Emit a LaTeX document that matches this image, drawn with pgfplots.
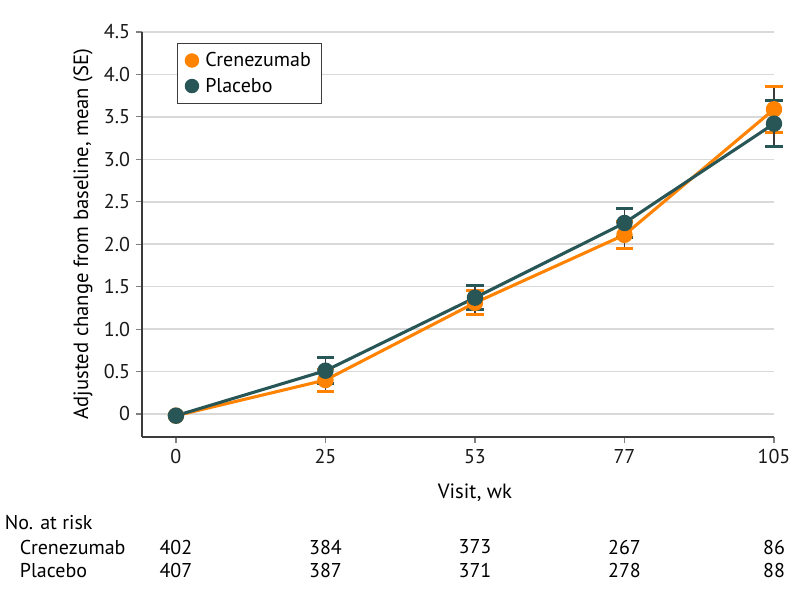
\documentclass[border=0pt]{standalone}
\usepackage{pgfplots}
\pgfplotsset{compat=1.18}
\usepackage{fontspec}
\setmainfont{PT Sans}
\definecolor{orangeC}{RGB}{255,130,0}
\definecolor{tealC}{RGB}{40,85,86}
\definecolor{gridC}{RGB}{217,217,217}
\definecolor{axC}{RGB}{60,60,60}
\begin{document}
\begin{tikzpicture}[x=1pt,y=1pt]
\begin{axis}[
  name=ax,
  at={(0,0)}, anchor=south west,
  scale only axis,
  width=474pt, height=303.75pt,
  xmin=-0.227, xmax=4,
  ymin=-0.271, ymax=4.5,
  clip=false,
  axis x line*=bottom, axis y line*=left,
  axis line style={axC, line width=0.8pt, -},
  xtick={0,1,2,3,4},
  xticklabels={0,25,53,77,105},
  ytick={0,0.5,1,1.5,2,2.5,3,3.5,4,4.5},
  yticklabels={0,0.5,1.0,1.5,2.0,2.5,3.0,3.5,4.0,4.5},
  tick align=outside,
  major tick length=4.5pt,
  tick style={gray, line width=0.9pt},
  ymajorgrids, grid style={gridC, line width=1.1pt},
  ticklabel style={font=\fontsize{15}{17}\selectfont, text=black!90},
  yticklabel style={xshift=-1pt},
  xticklabel style={yshift=-1pt},
  legend style={at={(rel axis cs:0.055,0.974)}, anchor=north west,
    draw=axC, line width=0.8pt, font=\fontsize{15}{17}\selectfont,
    inner xsep=6pt, inner ysep=5pt, row sep=3pt,
    /tikz/every odd column/.append style={column sep=3pt}},
  legend cell align=left,
]
% legend images
\addlegendimage{only marks, mark=*, mark size=5pt, color=orangeC}
\addlegendentry{Crenezumab}
\addlegendimage{only marks, mark=*, mark size=5pt, color=tealC}
\addlegendentry{Placebo}

% error bars (drawn first, behind markers)
\addplot[forget plot, draw=none, mark=none,
  error bars/.cd, y dir=both, y explicit,
  error bar style={line width=1.1pt, color=axC},
  error mark options={rotate=90, mark size=6.4pt, line width=2.2pt, color=orangeC}]
  coordinates {(1,0.40) +- (0,0.13) (2,1.31) +- (0,0.14) (3,2.11) +- (0,0.16) (4,3.59) +- (0,0.27)};
\addplot[forget plot, draw=none, mark=none,
  error bars/.cd, y dir=both, y explicit,
  error bar style={line width=1.1pt, color=axC},
  error mark options={rotate=90, mark size=6.4pt, line width=2.2pt, color=tealC}]
  coordinates {(1,0.51) +- (0,0.15) (2,1.37) +- (0,0.14) (3,2.25) +- (0,0.17) (4,3.42) +- (0,0.27)};

% lines with markers
\addplot[forget plot, orangeC, line width=2.3pt, mark=*, mark size=5pt, mark options={solid}]
  coordinates {(0,-0.02) (1,0.40) (2,1.31) (3,2.11) (4,3.59)};
\addplot[forget plot, tealC, line width=2.3pt, mark=*, mark size=5pt, mark options={solid}]
  coordinates {(0,-0.02) (1,0.51) (2,1.37) (3,2.25) (4,3.42)};

% labels
\node[rotate=90, font=\fontsize{15.5}{17}\selectfont] at (axis cs:-0.622,2.12) {Adjusted change from baseline, mean (SE)};
\node[font=\fontsize{15.5}{17}\selectfont] at (axis cs:2,-0.93) {Visit, wk};
\node[anchor=west, font=\fontsize{15}{17}\selectfont] at (axis cs:-1.175,-1.284) {No. at risk};
\node[anchor=west, font=\fontsize{15}{17}\selectfont] at (axis cs:-1.075,-1.567) {Crenezumab};
\node[anchor=west, font=\fontsize{15}{17}\selectfont] at (axis cs:-1.075,-1.849) {Placebo};
\node[font=\fontsize{15}{17}\selectfont] at (axis cs:0,-1.567) {402};
\node[font=\fontsize{15}{17}\selectfont] at (axis cs:1,-1.567) {384};
\node[font=\fontsize{15}{17}\selectfont] at (axis cs:2,-1.567) {373};
\node[font=\fontsize{15}{17}\selectfont] at (axis cs:3,-1.567) {267};
\node[font=\fontsize{15}{17}\selectfont] at (axis cs:4,-1.567) {86};
\node[font=\fontsize{15}{17}\selectfont] at (axis cs:0,-1.849) {407};
\node[font=\fontsize{15}{17}\selectfont] at (axis cs:1,-1.849) {387};
\node[font=\fontsize{15}{17}\selectfont] at (axis cs:2,-1.849) {371};
\node[font=\fontsize{15}{17}\selectfont] at (axis cs:3,-1.849) {278};
\node[font=\fontsize{15}{17}\selectfont] at (axis cs:4,-1.849) {88};
\end{axis}
\pgfresetboundingbox
\path[use as bounding box] (-106.5pt,-120.75pt) rectangle (489pt,327.75pt);
\end{tikzpicture}
\end{document}
